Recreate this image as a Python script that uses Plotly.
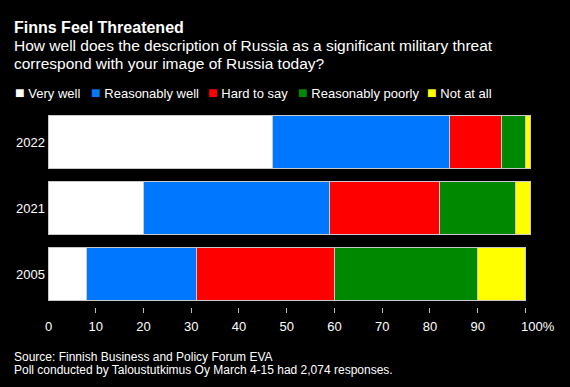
import plotly.graph_objects as go

years = ["2022", "2021", "2005"]
categories = ["Very well", "Reasonably well", "Hard to say", "Reasonably poorly", "Not at all"]
values = {
    "Very well":         [47, 20, 8],
    "Reasonably well":   [37, 39, 23],
    "Hard to say":       [11, 23, 29],
    "Reasonably poorly": [5, 16, 30],
    "Not at all":        [1, 3, 10],
}
colors = {
    "Very well": "#ffffff",
    "Reasonably well": "#0077ff",
    "Hard to say": "#ff0000",
    "Reasonably poorly": "#008800",
    "Not at all": "#ffff00",
}
xticks = [10, 20, 30, 40, 50, 60, 70, 80, 90, 100]
xticklabels = ["10", "20", "30", "40", "50", "60", "70", "80", "90", ""]

title = "Finns Feel Threatened"
subtitle1 = "How well does the description of Russia as a significant military threat"
subtitle2 = "correspond with your image of Russia today?"
source1 = "Source: Finnish Business and Policy Forum EVA"
source2 = "Poll conducted by Taloustutkimus Oy March 4-15 had 2,074 responses."

# ---- layout constants (pixels) ----
FONT = "Liberation Sans, Arial, sans-serif"
W, H = 570, 387
ML, MT, MB = 48, 109, 80
XMAX = 102
PW = 4.778 * XMAX
MR = W - ML - PW
PH = H - MT - MB
LEGEND_X = [13, 89.5, 206, 296, 425]   # left edge of each legend entry


def px_x(px):
    return (px - ML) / PW


def px_y(py):
    return (H - MB - py) / PH


fig = go.Figure()
for c in categories:
    fig.add_trace(go.Bar(
        y=years, x=values[c], name=c, orientation="h",
        marker=dict(color=colors[c], line=dict(color="#c8c8c8", width=1)),
        showlegend=False,
    ))

texts = [
    dict(text=f"<b>{title}</b>", px=12, py=27, size=16),
    dict(text=subtitle1, px=12, py=45.5, size=15.5),
    dict(text=subtitle2, px=12, py=63.5, size=15.5),
    dict(text=source1, px=12, py=357, size=12),
    dict(text=source2, px=12, py=369.5, size=12),
]
for t in texts:
    fig.add_annotation(text=t["text"], x=px_x(t["px"]), y=px_y(t["py"]),
                       xref="paper", yref="paper", xanchor="left", yanchor="middle",
                       showarrow=False, font=dict(size=t["size"], color="white", family=FONT))

for c, lx in zip(categories, LEGEND_X):
    fig.add_annotation(
        text=f"<span style='color:{colors[c]};font-size:16px'>■</span> {c}",
        x=px_x(lx), y=px_y(92), xref="paper", yref="paper",
        xanchor="left", yanchor="middle", showarrow=False,
        font=dict(size=13, color="white", family=FONT))

# "0" label (no tick mark in reference) and the "100%" label hanging right of its tick
fig.add_annotation(text="0", x=0, xref="x", y=px_y(326.5), yref="paper",
                   xanchor="center", yanchor="middle", showarrow=False,
                   font=dict(size=13, color="white", family=FONT))
fig.add_annotation(text="100%", x=xticks[-1], xref="x", xshift=-6, y=px_y(326.5), yref="paper",
                   xanchor="left", yanchor="middle", showarrow=False,
                   font=dict(size=13, color="white", family=FONT))

fig.update_layout(
    template="none",
    width=W, height=H,
    barmode="stack", bargap=0.206,
    paper_bgcolor="black", plot_bgcolor="black",
    margin=dict(l=ML, r=MR, t=MT, b=MB, pad=0, autoexpand=False),
    font=dict(family=FONT, color="white", size=13),
    xaxis=dict(range=[0, XMAX], tickvals=xticks, ticktext=xticklabels,
               showgrid=False, zeroline=False, showline=False, automargin=False,
               ticks="outside", ticklen=5, tickwidth=1, tickcolor="#bbbbbb",
               ticklabelstandoff=2,
               tickfont=dict(size=13, color="white"), fixedrange=True),
    yaxis=dict(type="category", categoryorder="array", categoryarray=years[::-1],
               showgrid=False, zeroline=False, showline=False, automargin=False,
               ticks="", ticklabelstandoff=2,
               tickfont=dict(size=13, color="white"), fixedrange=True),
)

fig.write_html(
    "out.html",
    config={"displayModeBar": False},
    post_script="document.body.style.margin='0';document.body.style.background='black';",
)
